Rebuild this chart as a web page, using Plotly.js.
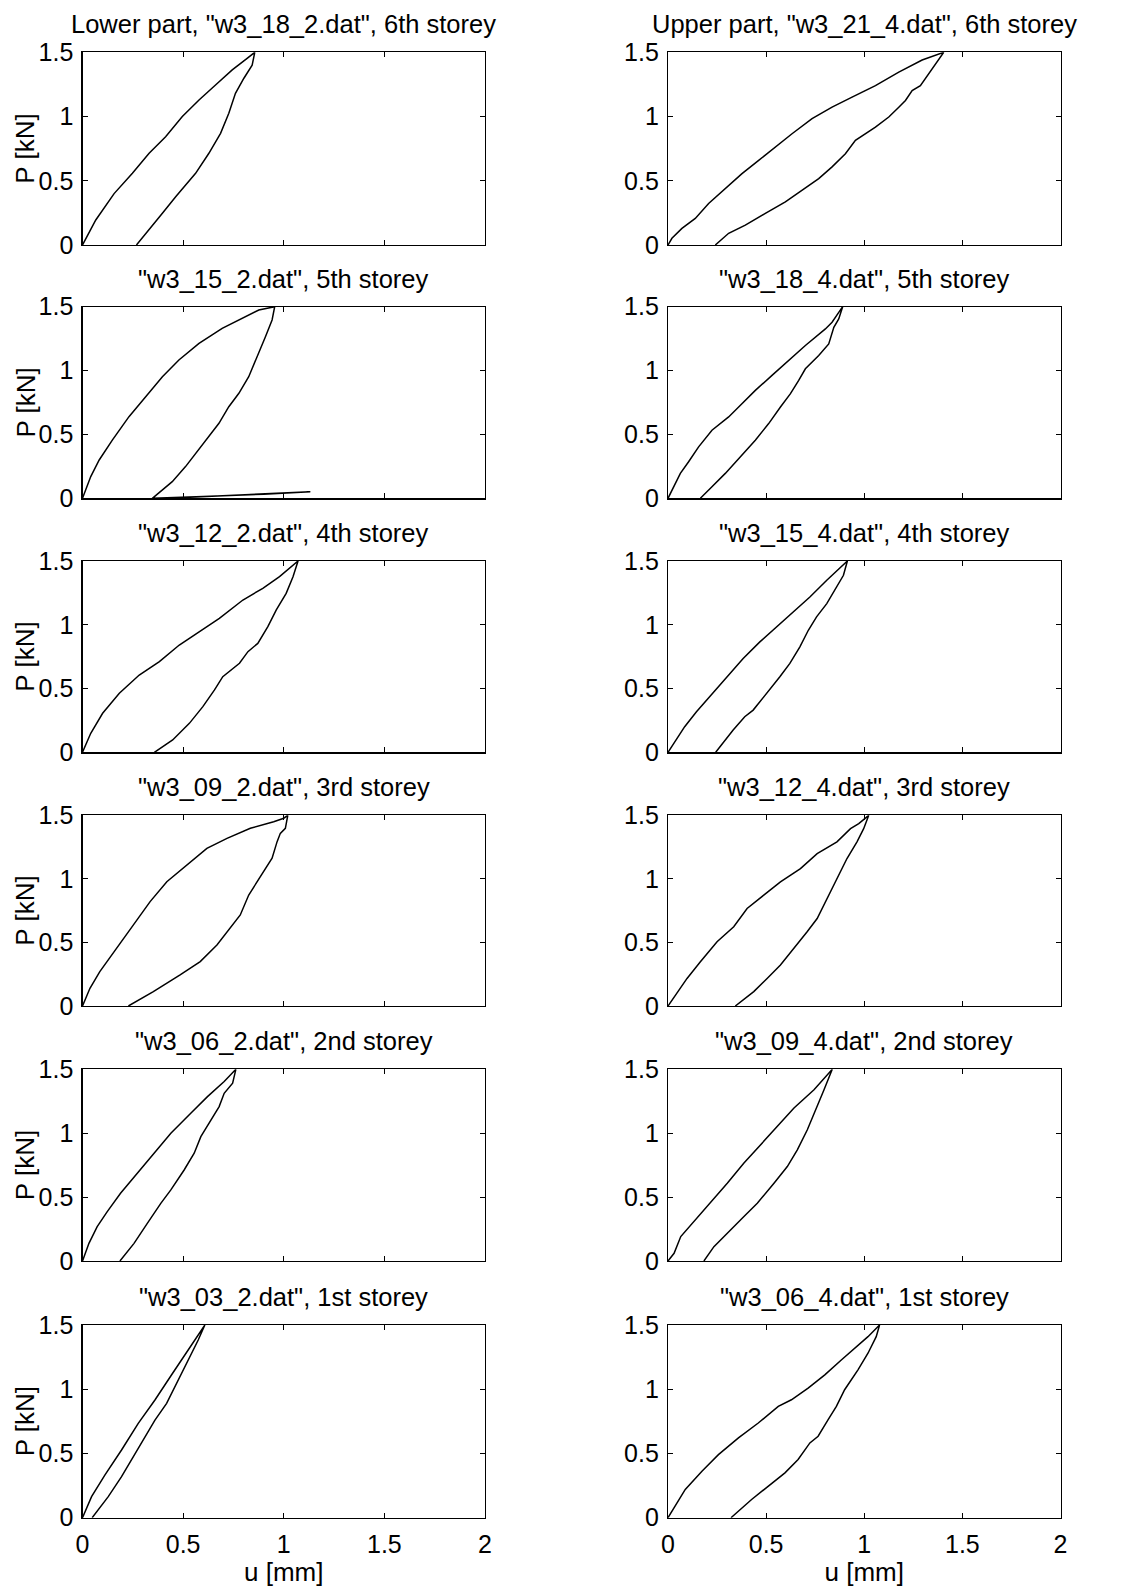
<!DOCTYPE html>
<html>
<head>
<meta charset="utf-8">
<script src="https://cdn.plot.ly/plotly-3.0.1.min.js"></script>
<style>html,body{margin:0;padding:0;background:#fff;}#chart{width:1131px;height:1587px;}</style>
</head>
<body>
<div id="chart"></div>
<script>
// ---- Data (u [mm], P [kN]) : loading branch followed by unloading branch ----
const u_w3_18_2 = [0,0.066,0.157,0.248,0.331,0.413,0.496,0.579,0.661,0.744,0.818,0.856,0.843,0.802,0.760,0.727,0.686,0.628,0.562,0.504,0.463,0.397,0.331,0.268];
const P_w3_18_2 = [0,0.195,0.40,0.558,0.714,0.843,1.0,1.129,1.246,1.363,1.453,1.5,1.40,1.298,1.181,1.025,0.869,0.714,0.558,0.454,0.376,0.247,0.117,0];

const u_w3_21_4 = [0,0.020,0.071,0.139,0.207,0.292,0.377,0.462,0.547,0.632,0.734,0.836,0.938,1.057,1.176,1.295,1.405,1.363,1.312,1.286,1.244,1.210,1.176,1.125,1.057,1.006,0.955,0.904,0.836,0.768,0.683,0.598,0.496,0.394,0.309,0.241];
const P_w3_21_4 = [0,0.052,0.129,0.207,0.323,0.44,0.556,0.659,0.763,0.866,0.983,1.073,1.151,1.241,1.345,1.44,1.5,1.409,1.293,1.241,1.202,1.125,1.073,0.996,0.918,0.866,0.815,0.711,0.608,0.517,0.427,0.336,0.246,0.155,0.091,0];

const u_w3_15_2 = [0,0.041,0.083,0.149,0.231,0.314,0.397,0.479,0.579,0.694,0.810,0.876,0.955,0.942,0.909,0.868,0.826,0.777,0.727,0.678,0.628,0.579,0.512,0.446,0.347,0.60,0.90,1.132,0.80,0.50,0.42];
const P_w3_15_2 = [0,0.170,0.30,0.457,0.639,0.796,0.952,1.083,1.213,1.331,1.422,1.474,1.5,1.396,1.265,1.109,0.952,0.822,0.717,0.587,0.483,0.378,0.248,0.130,0,0.014,0.032,0.052,0.026,0.006,0];

const u_w3_18_4 = [0,0.029,0.063,0.105,0.156,0.224,0.309,0.369,0.445,0.530,0.615,0.700,0.802,0.836,0.890,0.870,0.845,0.819,0.768,0.743,0.700,0.666,0.624,0.573,0.513,0.445,0.369,0.292,0.224,0.165];
const P_w3_18_4 = [0,0.091,0.195,0.286,0.403,0.533,0.637,0.728,0.845,0.962,1.079,1.196,1.326,1.378,1.5,1.404,1.339,1.209,1.118,1.079,1.014,0.923,0.819,0.715,0.585,0.455,0.325,0.195,0.091,0];

const u_w3_12_2 = [0,0.041,0.10,0.183,0.282,0.382,0.481,0.581,0.680,0.797,0.896,0.979,1.071,1.046,1.012,0.963,0.921,0.871,0.822,0.780,0.697,0.656,0.598,0.531,0.448,0.357];
const P_w3_12_2 = [0,0.149,0.306,0.463,0.606,0.711,0.841,0.946,1.050,1.194,1.286,1.377,1.5,1.377,1.246,1.116,0.985,0.854,0.789,0.698,0.593,0.489,0.358,0.227,0.097,0];

const u_w3_15_4 = [0,0.034,0.085,0.145,0.213,0.298,0.383,0.468,0.553,0.638,0.723,0.809,0.914,0.894,0.860,0.809,0.757,0.715,0.672,0.621,0.570,0.502,0.434,0.391,0.332,0.243];
const P_w3_15_4 = [0,0.083,0.201,0.318,0.436,0.592,0.736,0.866,0.984,1.101,1.218,1.349,1.5,1.388,1.297,1.166,1.062,0.957,0.827,0.697,0.592,0.462,0.331,0.279,0.175,0];

const u_w3_09_2 = [0,0.037,0.086,0.169,0.252,0.336,0.419,0.518,0.618,0.718,0.834,0.950,1.0,1.02,1.008,0.983,0.967,0.942,0.900,0.867,0.826,0.784,0.734,0.668,0.585,0.485,0.352,0.228];
const P_w3_09_2 = [0,0.139,0.270,0.454,0.637,0.821,0.978,1.109,1.240,1.319,1.398,1.450,1.477,1.5,1.398,1.358,1.293,1.162,1.057,0.978,0.873,0.716,0.611,0.480,0.349,0.244,0.113,0];

const u_w3_12_4 = [0,0.037,0.097,0.165,0.250,0.335,0.403,0.488,0.573,0.675,0.760,0.861,0.930,0.972,1.023,0.997,0.963,0.912,0.861,0.810,0.760,0.709,0.641,0.573,0.505,0.437,0.343];
const P_w3_12_4 = [0,0.086,0.217,0.348,0.505,0.623,0.767,0.872,0.976,1.081,1.199,1.291,1.395,1.435,1.5,1.395,1.291,1.160,1.003,0.846,0.688,0.584,0.453,0.322,0.217,0.113,0];

const u_w3_06_2 = [0,0.032,0.073,0.123,0.189,0.272,0.355,0.439,0.538,0.621,0.704,0.762,0.746,0.704,0.679,0.638,0.588,0.555,0.505,0.439,0.389,0.322,0.256,0.186];
const P_w3_06_2 = [0,0.138,0.269,0.386,0.530,0.686,0.843,0.999,1.156,1.286,1.404,1.5,1.391,1.312,1.208,1.104,0.973,0.843,0.712,0.556,0.451,0.295,0.138,0];

const u_w3_09_4 = [0,0.031,0.065,0.132,0.217,0.302,0.387,0.472,0.557,0.642,0.744,0.837,0.795,0.752,0.710,0.659,0.608,0.540,0.455,0.387,0.302,0.234,0.183];
const P_w3_09_4 = [0,0.060,0.191,0.308,0.452,0.609,0.766,0.909,1.053,1.197,1.340,1.5,1.340,1.184,1.027,0.870,0.739,0.609,0.452,0.348,0.217,0.112,0];

const u_w3_03_2 = [0,0.045,0.111,0.194,0.277,0.360,0.442,0.525,0.608,0.575,0.525,0.476,0.418,0.360,0.302,0.260,0.194,0.128,0.048];
const P_w3_03_2 = [0,0.164,0.332,0.527,0.734,0.916,1.111,1.305,1.5,1.383,1.228,1.072,0.890,0.760,0.605,0.488,0.319,0.164,0];

const u_w3_06_4 = [0,0.037,0.088,0.173,0.257,0.359,0.460,0.562,0.629,0.714,0.799,0.883,0.951,1.019,1.078,1.061,1.019,0.968,0.900,0.858,0.816,0.765,0.723,0.663,0.596,0.511,0.426,0.321];
const P_w3_06_4 = [0,0.091,0.220,0.362,0.491,0.621,0.737,0.866,0.918,1.009,1.112,1.228,1.319,1.409,1.5,1.409,1.280,1.151,0.996,0.866,0.763,0.634,0.582,0.453,0.349,0.246,0.142,0];

const panelTitles = [
  ['Lower part, "w3_18_2.dat", 6th storey', 'Upper part, "w3_21_4.dat", 6th storey'],
  ['"w3_15_2.dat", 5th storey', '"w3_18_4.dat", 5th storey'],
  ['"w3_12_2.dat", 4th storey', '"w3_15_4.dat", 4th storey'],
  ['"w3_09_2.dat", 3rd storey', '"w3_12_4.dat", 3rd storey'],
  ['"w3_06_2.dat", 2nd storey', '"w3_09_4.dat", 2nd storey'],
  ['"w3_03_2.dat", 1st storey', '"w3_06_4.dat", 1st storey']
];
const panelData = [
  [[u_w3_18_2, P_w3_18_2], [u_w3_21_4, P_w3_21_4]],
  [[u_w3_15_2, P_w3_15_2], [u_w3_18_4, P_w3_18_4]],
  [[u_w3_12_2, P_w3_12_2], [u_w3_15_4, P_w3_15_4]],
  [[u_w3_09_2, P_w3_09_2], [u_w3_12_4, P_w3_12_4]],
  [[u_w3_06_2, P_w3_06_2], [u_w3_09_4, P_w3_09_4]],
  [[u_w3_03_2, P_w3_03_2], [u_w3_06_4, P_w3_06_4]]
];
const xTicks = [0, 0.5, 1, 1.5, 2];
const yTicks = [0, 0.5, 1, 1.5];
const xLabel = 'u [mm]';
const yLabel = 'P [kN]';

// ---- Layout geometry (pixels) ----
const W = 1131, H = 1587;
const colX = [[82.5, 485], [668, 1060.5]];
const rowY = [[52.3, 245], [306.7, 498.3], [561, 752.3], [815.3, 1006], [1069.3, 1261], [1325, 1517.7]];
const FONT = '"Liberation Sans", Arial, Helvetica, sans-serif';
const TICK = 25, TITLE = 25.5, LABEL = 26;

const traces = [];
const layout = {
  width: W, height: H,
  margin: {l: 0, r: 0, t: 0, b: 0},
  paper_bgcolor: '#fff', plot_bgcolor: '#fff',
  showlegend: false,
  font: {family: FONT, color: '#000', size: TICK},
  annotations: []
};

let idx = 0;
for (let r = 0; r < 6; r++) {
  for (let c = 0; c < 2; c++) {
    idx++;
    const xa = idx === 1 ? 'xaxis' : 'xaxis' + idx;
    const ya = idx === 1 ? 'yaxis' : 'yaxis' + idx;
    const xr = idx === 1 ? 'x' : 'x' + idx;
    const yr = idx === 1 ? 'y' : 'y' + idx;
    const d = panelData[r][c];
    traces.push({
      x: d[0], y: d[1], type: 'scatter', mode: 'lines',
      line: {color: '#000', width: 1.5},
      xaxis: xr, yaxis: yr, hoverinfo: 'skip'
    });
    const xd = [colX[c][0] / W, colX[c][1] / W];
    const yd = [1 - rowY[r][1] / H, 1 - rowY[r][0] / H];
    layout[xa] = {
      domain: xd, anchor: yr, range: [0, 2],
      tickvals: xTicks, showticklabels: r === 5,
      ticks: 'inside', ticklen: 5, tickwidth: 1, tickcolor: '#000',
      showline: true, linecolor: '#000', linewidth: 1.2, mirror: 'ticks',
      showgrid: false, zeroline: false, fixedrange: true,
      tickfont: {size: TICK, family: FONT, color: '#000'},
      ticklabelstandoff: 4
    };
    if (r === 5) {
      layout[xa].title = {text: xLabel, font: {size: LABEL, family: FONT, color: '#000'}, standoff: 0};
    }
    layout[ya] = {
      domain: yd, anchor: xr, range: [0, 1.5],
      tickvals: yTicks,
      ticks: 'inside', ticklen: 5, tickwidth: 1, tickcolor: '#000',
      showline: true, linecolor: '#000', linewidth: 1.2, mirror: 'ticks',
      showgrid: false, zeroline: false, fixedrange: true,
      tickfont: {size: TICK, family: FONT, color: '#000'},
      ticklabelstandoff: 3
    };
    layout.annotations.push({
      text: panelTitles[r][c], xref: 'paper', yref: 'paper',
      x: (xd[0] + xd[1]) / 2, y: yd[1], xanchor: 'center', yanchor: 'bottom',
      yshift: 12, showarrow: false,
      font: {size: TITLE, family: FONT, color: '#000'}
    });
    if (c === 0) {
      layout.annotations.push({
        text: yLabel, xref: 'paper', yref: 'paper',
        x: 25 / W, y: (yd[0] + yd[1]) / 2, xanchor: 'center', yanchor: 'middle',
        textangle: -90, showarrow: false,
        font: {size: LABEL, family: FONT, color: '#000'}
      });
    }
  }
}

Plotly.newPlot('chart', traces, layout, {staticPlot: true, displayModeBar: false});
</script>
</body>
</html>
